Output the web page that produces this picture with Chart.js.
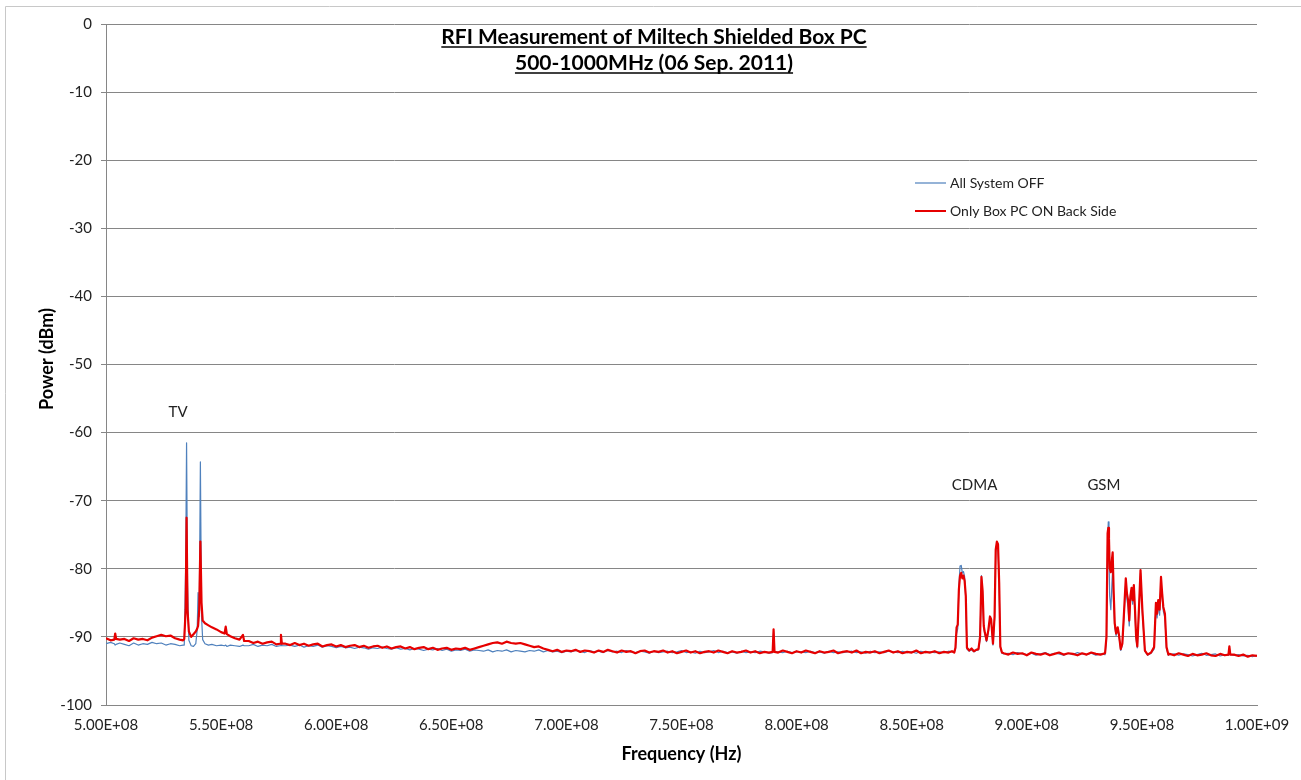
<!DOCTYPE html>
<html>
<head>
<meta charset="utf-8">
<script src="https://cdn.jsdelivr.net/npm/chart.js@4.4.0/dist/chart.umd.min.js"></script>
<style>
body { margin: 0; background: #fff; }
</style>
</head>
<body>
<canvas id="rfiChart" width="1301" height="780"></canvas>
<script>
// frequency in MHz, power in dBm
var freqs = [
    500, 502, 503.6, 504, 504.4, 506, 508, 510, 512, 514, 516, 518, 520, 522, 524, 526, 528, 530, 532, 533.5,
    534, 534.6, 535, 535.4, 536, 537, 538, 539, 539.6, 540, 540.5, 541, 541.5, 542, 543, 544.5,
    546, 548, 550, 551.5, 552, 552.5, 554, 556, 558, 559.5, 560,
    562, 564, 566, 568, 570, 572, 574, 575.6, 576, 576.4, 578, 580,
    582, 584, 586, 588, 590, 592, 594, 596, 598, 600,
    602, 604, 606, 608, 610, 612, 614, 616, 618, 620,
    622, 624, 626, 628, 630, 632, 634, 636, 638, 640,
    642, 644, 646, 648, 650, 652, 654, 656, 658, 660,
    662, 664, 666, 668, 670, 672, 674, 676, 678, 680,
    682, 684, 686, 688, 690, 692, 694, 696, 698, 700,
    702, 704, 706, 708, 710, 712, 714, 716, 718, 720,
    722, 724, 726, 728, 730, 732, 734, 736, 738, 740,
    742, 744, 746, 748, 750, 752, 754, 756, 758, 760,
    762, 764, 766, 768, 770, 772, 774, 776, 778, 780,
    782, 784, 786, 788, 789.6, 790, 790.4, 792, 794, 796, 798, 800,
    802, 804, 806, 808, 810, 812, 814, 816, 818, 820,
    822, 824, 826, 828, 830, 832, 834, 836, 838, 840,
    842, 844, 846, 848, 850, 852, 854, 856, 858, 860,
    862, 864, 866,
    867.5, 868.5, 869, 869.5, 870, 870.5, 871, 871.5, 872, 872.5,
    873, 873.5, 874, 875, 876, 877, 878, 879, 879.7, 880.3,
    880.8, 881.3, 881.8, 882.5, 883.3, 884, 884.5, 885.3, 886, 886.5,
    887, 887.5, 888, 888.5, 889.2,
    890, 892, 894, 896, 898, 900, 902, 904, 906, 908, 910, 912,
    914, 916, 918, 920, 922, 924, 926, 928, 930, 932, 934,
    934.6, 935.1, 935.4, 935.7, 936, 936.5, 937, 937.3, 937.7, 938.2,
    938.8, 939.5, 940, 940.8, 941.5, 942.3, 943, 943.5, 944, 944.5,
    945, 945.5, 946, 946.5, 947, 947.5, 948, 948.7, 949.4, 950.2,
    951.3, 952.5, 954, 955.3, 956.1, 956.6, 957.1, 957.7, 958.3, 958.8,
    959.3, 960, 960.7, 961.5,
    962, 964, 966, 968, 970, 972, 974, 976, 978, 980,
    982, 984, 986, 987.6, 988, 988.4, 990, 992, 994, 996, 998, 1000
];

var offVals = [
    -91.0, -90.8, -91.0, -91.2, -91.1, -90.9, -91.1, -91.3, -90.9, -91.2, -91.0, -91.1, -90.8, -91.0, -90.9, -91.2, -91.0, -91.1, -91.3, -91.2,
    -91.2, -80, -61.5, -82, -90.5, -91.3, -91.4, -91.0, -89, -83.5, -87, -64.3, -87, -90.4, -91.0, -91.2,
    -91.1, -91.3, -91.2, -91.3, -91.2, -91.4, -91.2, -91.3, -91.4, -91.2, -91.3,
    -91.3, -91.1, -91.4, -91.2, -91.3, -91.1, -91.4, -91.3, -89.8, -91.3, -91.3, -91.2,
    -91.4, -91.2, -91.5, -91.3, -91.4, -91.2, -91.5, -91.3, -91.4, -91.6,
    -91.4, -91.6, -91.5, -91.7, -91.5, -91.6, -91.8, -91.6, -91.7, -91.5,
    -91.7, -91.8, -91.6, -91.8, -91.7, -91.9, -91.7, -91.8, -92.0, -91.8,
    -91.9, -91.7, -92.0, -91.8, -92.1, -91.9, -92.0, -91.8, -92.1, -91.9,
    -92.0, -92.1, -91.9, -92.2, -92.0, -92.1, -91.9, -92.2, -92.0, -92.1,
    -92.2, -92.0, -92.1, -91.9, -92.2, -92.0, -92.2, -92.1, -92.3, -92.1,
    -92.2, -92.0, -92.1, -92.3, -92.0, -92.2, -92.1, -92.3, -92.0, -92.2,
    -92.1, -92.3, -92.0, -92.2, -92.3, -92.1, -92.2, -92.4, -92.1, -92.3,
    -92.2, -92.1, -92.3, -92.2, -92.0, -92.3, -92.2, -92.4, -92.1, -92.3,
    -92.2, -92.0, -92.3, -92.1, -92.3, -92.2, -92.4, -92.1, -92.3, -92.2,
    -92.3, -92.1, -92.2, -92.4, -92.3, -89.2, -92.2, -92.2, -92.3, -92.1, -92.3, -92.2,
    -92.2, -92.3, -92.1, -92.3, -92.2, -92.4, -92.1, -92.3, -92.2, -92.3,
    -92.2, -92.1, -92.3, -92.2, -92.4, -92.1, -92.3, -92.2, -92.3, -92.1,
    -92.2, -92.3, -92.1, -92.3, -92.2, -92.4, -92.1, -92.3, -92.2, -92.3,
    -92.2, -92.3, -92.1,
    -92.2, -92.2, -91.8, -89.5, -88.8, -82.5, -79.6, -79.5, -80.6, -80.4,
    -81.2, -84.5, -91.8, -92.1, -91.9, -92.2, -92.0, -91.9, -90.4, -81.0,
    -83.6, -88.8, -89.6, -90.7, -89.3, -87.2, -87.8, -91.2, -87.4, -77.6,
    -76.2, -76.6, -82.6, -91.6, -92.4,
    -92.5, -92.4, -92.6, -92.3, -92.5, -92.6, -92.4, -92.7, -92.5, -92.3, -92.6, -92.4,
    -92.5, -92.7, -92.4, -92.6, -92.3, -92.5, -92.6, -92.4, -92.7, -92.5, -92.6,
    -90.5, -76.0, -73.1, -78.0, -84.0, -86.0, -82.0, -80.0, -85.0, -88.6,
    -89.8, -89.0, -89.8, -92.0, -91.2, -86.5, -81.8, -84.5, -85.6, -88.4,
    -85.0, -83.2, -85.2, -82.8, -86.8, -90.4, -91.6, -86.6, -80.6, -86.5,
    -92.1, -92.7, -92.4, -91.8, -85.6, -87.2, -85.2, -86.8, -81.8, -84.2,
    -86.2, -87.2, -91.8, -92.7,
    -92.6, -92.5, -92.7, -92.5, -92.6, -92.8, -92.6, -92.4, -92.7, -92.6,
    -92.5, -92.8, -92.6, -92.7, -91.6, -92.6, -92.7, -92.6, -92.8, -92.7, -92.9, -92.7
];

var onVals = [
    -90.2, -90.5, -90.4, -89.5, -90.3, -90.4, -90.3, -90.6, -90.2, -90.4, -90.3, -90.5, -90.1, -89.9, -89.7, -89.9, -89.8, -90.2, -90.4, -90.5,
    -90.3, -86, -72.5, -86, -89.2, -90, -89.6, -89.2, -88.8, -88.4, -86, -76, -85, -87.6, -88, -88.3,
    -88.6, -88.9, -89.3, -89.5, -88.5, -89.6, -89.9, -90.2, -90.4, -89.7, -90.6,
    -90.6, -90.9, -90.7, -91.0, -90.8, -90.7, -91.1, -91.0, -89.7, -91.0, -91.0, -91.2,
    -90.9, -91.2, -91.0, -91.3, -91.1, -91.0, -91.4, -91.2, -91.1, -91.4,
    -91.2, -91.5, -91.3, -91.2, -91.5, -91.3, -91.6, -91.4, -91.3, -91.6,
    -91.4, -91.7, -91.5, -91.4, -91.7, -91.5, -91.8, -91.6, -91.5, -91.8,
    -91.6, -91.9, -91.7, -91.6, -91.9, -91.7, -91.8, -91.6, -91.9, -91.7,
    -91.5, -91.3, -91.1, -90.9, -90.8, -91.0, -90.7, -90.9, -91.0, -90.9,
    -91.1, -91.3, -91.5, -91.4, -91.7, -91.9, -92.1, -91.9, -92.2, -92.0,
    -92.1, -91.9, -92.2, -92.0, -92.1, -92.3, -92.0, -92.2, -91.9, -92.1,
    -92.3, -92.0, -92.2, -92.1, -92.4, -92.1, -92.0, -92.3, -92.1, -92.2,
    -92.0, -92.3, -92.1, -92.4, -92.2, -92.0, -92.3, -92.1, -92.4, -92.2,
    -92.1, -92.3, -92.0, -92.2, -92.4, -92.1, -92.3, -92.2, -92.0, -92.3,
    -92.1, -92.4, -92.2, -92.3, -92.2, -88.9, -92.2, -92.3, -92.0, -92.2, -92.4, -92.1,
    -92.3, -92.0, -92.2, -92.4, -92.1, -92.3, -92.2, -92.0, -92.4, -92.2,
    -92.1, -92.3, -92.0, -92.4, -92.2, -92.3, -92.1, -92.4, -92.2, -92.0,
    -92.3, -92.1, -92.4, -92.2, -92.3, -92.0, -92.4, -92.2, -92.3, -92.1,
    -92.4, -92.2, -92.3,
    -92.1, -92.3, -91.6, -88.6, -88.2, -83.0, -81.0, -80.6, -81.4, -81.0,
    -81.8, -84.0, -91.6, -92.0, -91.7, -92.1, -91.9, -91.8, -90.0, -81.2,
    -83.2, -88.4, -89.4, -90.5, -89.0, -87.0, -87.4, -91.0, -87.0, -77.2,
    -76.0, -76.4, -82.0, -91.4, -92.3,
    -92.4, -92.6, -92.3, -92.5, -92.4, -92.7, -92.3, -92.5, -92.6, -92.4, -92.7, -92.5,
    -92.3, -92.6, -92.4, -92.5, -92.7, -92.4, -92.6, -92.3, -92.5, -92.6, -92.4,
    -90.0, -74.8, -74.0, -75.5, -79.8, -80.5, -78.6, -77.6, -83.0, -88.0,
    -89.5, -88.6, -89.6, -91.8, -91.0, -86.0, -81.4, -83.6, -84.6, -87.6,
    -84.0, -82.8, -84.6, -82.4, -86.0, -90.0, -91.4, -86.0, -80.2, -86.0,
    -92.0, -92.6, -92.3, -91.5, -85.0, -86.6, -84.6, -86.0, -81.2, -83.6,
    -85.6, -86.6, -91.5, -92.6,
    -92.5, -92.7, -92.4, -92.6, -92.8, -92.5, -92.7, -92.6, -92.4, -92.7,
    -92.8, -92.5, -92.7, -92.6, -91.4, -92.6, -92.6, -92.8, -92.6, -92.9, -92.7, -92.8
];

var seriesNames = ["All System OFF", "Only Box PC ON Back Side"];
var noteLabels = ["TV", "CDMA", "GSM"];
var noteFreqs = [531.3, 877.3, 933.5];
var noteLevels = [-57, -67.7, -67.7];

var gridGray = "#868686";
var blue = "#4f81bd";
var red = "#e60000";

function toPoints(vals) {
    var pts = [];
    for (var i = 0; i < freqs.length; i++) {
        pts.push({ x: freqs[i], y: vals[i] });
    }
    return pts;
}

function sciLabel(mhz) {
    var hz = mhz * 1e6;
    var e = Math.floor(Math.log10(hz) + 1e-9);
    var m = hz / Math.pow(10, e);
    return m.toFixed(2) + "E+" + (e < 10 ? "0" : "") + e;
}

var decorations = {
    id: "decorations",
    beforeDraw: function (chart) {
        var c = chart.ctx;
        c.save();
        c.fillStyle = "#fff";
        c.fillRect(0, 0, chart.width, chart.height);
        c.strokeStyle = "#c8c8c8";
        c.lineWidth = 1;
        c.beginPath();
        c.moveTo(5.5, chart.height);
        c.lineTo(5.5, 6.5);
        c.lineTo(chart.width, 6.5);
        c.stroke();
        c.restore();
    },
    afterDraw: function (chart) {
        var c = chart.ctx;
        var x = chart.scales.x, y = chart.scales.y;
        var area = chart.chartArea;
        c.save();

        // title, underlined
        c.fillStyle = "#000";
        c.strokeStyle = "#000";
        c.textAlign = "center";
        c.textBaseline = "alphabetic";
        c.font = "bold 21px Lato";
        var lines = ["RFI Measurement of Miltech Shielded Box PC", "500-1000MHz (06 Sep. 2011)"];
        var bases = [44, 70];
        for (var i = 0; i < lines.length; i++) {
            c.fillText(lines[i], 654, bases[i]);
            var w = c.measureText(lines[i]).width;
            c.lineWidth = 1.5;
            c.beginPath();
            c.moveTo(654 - w / 2, bases[i] + 3);
            c.lineTo(654 + w / 2, bases[i] + 3);
            c.stroke();
        }

        // legend
        c.font = "14px Lato";
        c.textAlign = "left";
        c.textBaseline = "middle";
        var colors = [blue, red];
        var widths = [1.2, 2];
        var rows = [183, 211];
        for (var j = 0; j < seriesNames.length; j++) {
            c.strokeStyle = colors[j];
            c.lineWidth = widths[j];
            c.beginPath();
            c.moveTo(915, rows[j]);
            c.lineTo(946, rows[j]);
            c.stroke();
            c.fillStyle = "#222";
            c.fillText(seriesNames[j], 950, rows[j]);
        }

        // band notes
        c.font = "15px Lato";
        c.textAlign = "center";
        c.fillStyle = "#222";
        for (var k = 0; k < noteLabels.length; k++) {
            c.fillText(noteLabels[k], x.getPixelForValue(noteFreqs[k]), y.getPixelForValue(noteLevels[k]));
        }

        // axis titles
        c.fillStyle = "#000";
        c.font = "bold 18px Lato";
        c.fillText("Frequency (Hz)", (area.left + area.right) / 2, 754);
        c.translate(47, 359);
        c.rotate(-Math.PI / 2);
        c.fillText("Power (dBm)", 0, 0);
        c.restore();
    }
};

var ctx = document.getElementById("rfiChart");
var rfiChart = new Chart(ctx, {
    type: "line",
    data: {
        datasets: [{
                label: seriesNames[0],
                data: toPoints(offVals),
                borderColor: blue,
                borderWidth: 1.2,
                order: 1
            },
            {
                label: seriesNames[1],
                data: toPoints(onVals),
                borderColor: red,
                borderWidth: 2.2,
                order: 0
            }
        ]
    },
    options: {
        responsive: false,
        animation: false,
        layout: { padding: { left: 0, right: 44, top: 24, bottom: 0 } },
        elements: {
            point: { radius: 0 },
            line: { tension: 0, borderJoinStyle: "round" }
        },
        plugins: {
            legend: { display: false },
            tooltip: { enabled: false }
        },
        scales: {
            x: {
                type: "linear",
                min: 500,
                max: 1000,
                ticks: {
                    stepSize: 50,
                    padding: 11,
                    color: "#222",
                    font: { family: "Lato", size: 15 },
                    maxRotation: 0,
                    callback: function (v) { return sciLabel(v); }
                },
                grid: { display: false, drawTicks: false },
                border: { display: true, color: gridGray },
                afterFit: function (s) { s.height = 75; }
            },
            y: {
                min: -100,
                max: 0,
                ticks: {
                    stepSize: 10,
                    padding: 9,
                    color: "#222",
                    font: { family: "Lato", size: 15 }
                },
                grid: { color: gridGray, tickLength: 5 },
                border: { display: true, color: gridGray },
                afterFit: function (s) { s.width = 106; }
            }
        }
    },
    plugins: [decorations]
});
</script>
</body>
</html>
